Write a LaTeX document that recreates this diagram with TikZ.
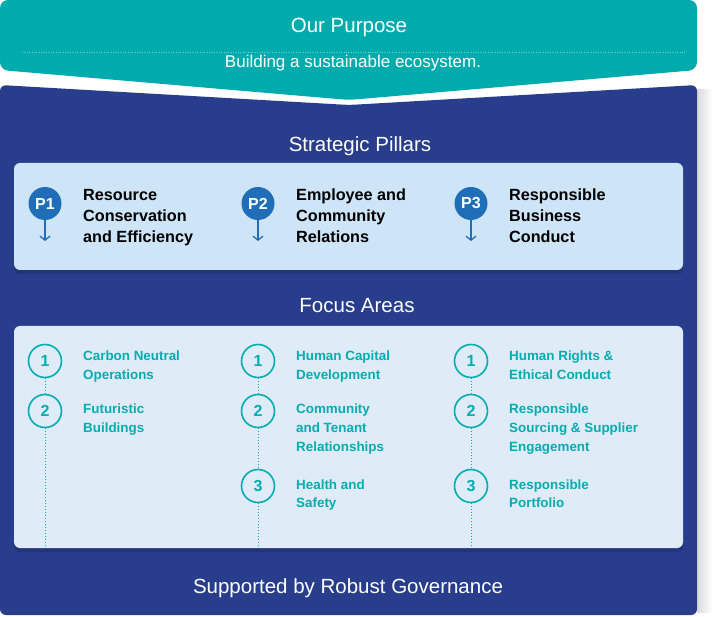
\documentclass[tikz,border=0pt]{standalone}
\usepackage{fontspec}
\setmainfont{Liberation Sans}
\usetikzlibrary{arrows.meta,shadows}
\definecolor{teal0}{HTML}{00ABAE}
\definecolor{navy0}{HTML}{283D8B}
\definecolor{pboxc}{HTML}{CEE4F7}
\definecolor{fboxc}{HTML}{DFECF8}
\definecolor{pblue}{HTML}{1F6EB7}
\definecolor{tealtx}{HTML}{00ADB0}
\begin{document}
\begin{tikzpicture}[x=1pt,y=-1pt,
  head/.style={text=white,font=\fontsize{20.5}{24}\selectfont,anchor=base,inner sep=0},
  subhead/.style={text=white,font=\fontsize{17}{20}\selectfont,anchor=base,inner sep=0},
  pcirc/.style={circle,fill=pblue,minimum size=33pt,inner sep=0,text=white,font=\bfseries\fontsize{16}{18}\selectfont},
  fcirc/.style={circle,draw=tealtx,line width=1.6pt,minimum size=33pt,inner sep=0,text=tealtx,font=\bfseries\fontsize{16}{18}\selectfont},
  plabel/.style={anchor=base west,inner sep=0,text=black,font=\bfseries\fontsize{16.2}{21}\selectfont},
  flabel/.style={anchor=base west,inner sep=0,text=tealtx,font=\bfseries\fontsize{13.4}{18.5}\selectfont},
  dotline/.style={tealtx,line width=1pt,dash pattern=on 1pt off 2pt},
  parrow/.style={pblue,line width=1.3pt,-{Straight Barb[length=4pt,width=10pt,line width=1.3pt]}},
  boxshadow/.style={drop shadow={shadow xshift=0pt,shadow yshift=-4pt,opacity=0.12,fill=black}}
]
\useasboundingbox (0,0) rectangle (715,617);
% right-side shadow
\shade[left color=black!15,right color=white] (697,90) rectangle (712,612);
% teal purpose shape
\fill[teal0,rounded corners=8pt] (0,70) -- (0,0) -- (697,0) -- (697,70) -- (349,100) -- cycle;
\draw[white,opacity=0.45,line width=0.8pt,dash pattern=on 0.8pt off 1.6pt] (22,52) -- (685,52);
\node[head] (purpose) at (349,33) {Our Purpose};
\node[subhead] (purposetxt) at (353,68) {Building a sustainable ecosystem.};
% navy panel
\fill[navy0,rounded corners=6pt] (0,85) -- (349,105) -- (697,85) -- (697,615) -- (0,615) -- cycle;
\node[head] (pillars) at (360,152) {Strategic Pillars};
\fill[pboxc,rounded corners=6pt,boxshadow] (14,163) rectangle (683,270);
% pillars
\node[pcirc] (p1) at (45,203.5) {P1};
\node[pcirc] (p2) at (258,203.5) {P2};
\node[pcirc] (p3) at (471,203.5) {P3};
\coordinate (p1e) at (45,241);
\coordinate (p2e) at (258,241);
\coordinate (p3e) at (471,241);
\draw[parrow] (p1) -- (p1e);
\draw[parrow] (p2) -- (p2e);
\draw[parrow] (p3) -- (p3e);
\node[plabel] (l1) at (83,201) {\vtop{\hbox{Resource}\hbox{Conservation}\hbox{and Efficiency}}};
\node[plabel] (l2) at (296,201) {\vtop{\hbox{Employee and}\hbox{Community}\hbox{Relations}}};
\node[plabel] (l3) at (509,201) {\vtop{\hbox{Responsible}\hbox{Business}\hbox{Conduct}}};
% focus areas
\node[head] (focus) at (357,313) {Focus Areas};
\fill[fboxc,rounded corners=6pt,boxshadow] (14,326) rectangle (683,548);
\node[fcirc] (a1) at (45,361) {1};
\node[fcirc] (a2) at (45,411) {2};
\coordinate (ae) at (45,548);
\node[fcirc] (b1) at (258,361) {1};
\node[fcirc] (b2) at (258,411) {2};
\node[fcirc] (b3) at (258,486) {3};
\coordinate (be) at (258,548);
\node[fcirc] (c1) at (471,361) {1};
\node[fcirc] (c2) at (471,411) {2};
\node[fcirc] (c3) at (471,486) {3};
\coordinate (ce) at (471,548);
\draw[dotline] (a1.south) -- (a2.north);
\draw[dotline] (a2.south) -- (ae);
\draw[dotline] (b1.south) -- (b2.north);
\draw[dotline] (b2.south) -- (b3.north);
\draw[dotline] (b3.south) -- (be);
\draw[dotline] (c1.south) -- (c2.north);
\draw[dotline] (c2.south) -- (c3.north);
\draw[dotline] (c3.south) -- (ce);
\node[flabel] (ta1) at (83,361) {\vtop{\hbox{Carbon Neutral}\hbox{Operations}}};
\node[flabel] (ta2) at (83,414) {\vtop{\hbox{Futuristic}\hbox{Buildings}}};
\node[flabel] (tb1) at (296,361) {\vtop{\hbox{Human Capital}\hbox{Development}}};
\node[flabel] (tb2) at (296,414) {\vtop{\hbox{Community}\hbox{and Tenant}\hbox{Relationships}}};
\node[flabel] (tb3) at (296,489) {\vtop{\hbox{Health and}\hbox{Safety}}};
\node[flabel] (tc1) at (509,361) {\vtop{\hbox{Human Rights \&}\hbox{Ethical Conduct}}};
\node[flabel] (tc2) at (509,414) {\vtop{\hbox{Responsible}\hbox{Sourcing \& Supplier}\hbox{Engagement}}};
\node[flabel] (tc3) at (509,489) {\vtop{\hbox{Responsible}\hbox{Portfolio}}};
\node[head] (gov) at (348,593) {Supported by Robust Governance};
\end{tikzpicture}
\end{document}
